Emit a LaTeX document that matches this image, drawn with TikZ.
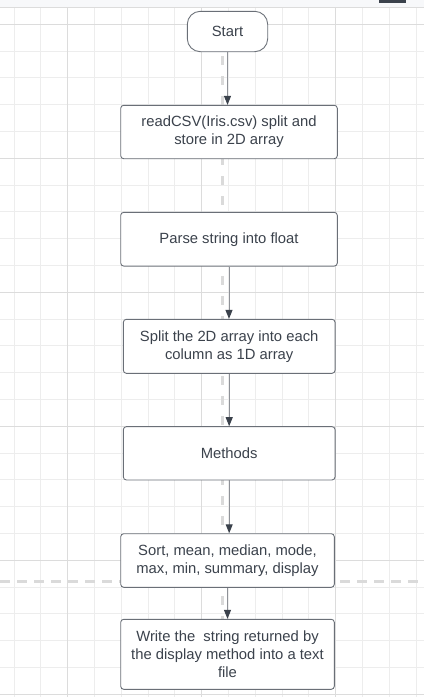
\documentclass[tikz,border=0pt]{standalone}
\usepackage{fontspec}
\setmainfont{Liberation Sans}
\usetikzlibrary{arrows.meta}
\definecolor{ink}{HTML}{3B424C}
\definecolor{edge}{HTML}{6A6F77}
\definecolor{wire}{HTML}{8E9197}
\definecolor{minorgrid}{HTML}{EDEDED}
\definecolor{majorgrid}{HTML}{DCDCDC}
\definecolor{guide}{HTML}{DADADA}
\definecolor{topbar}{HTML}{F7F8FA}
\tikzstyle{box} = [draw=edge, line width=0.9pt, fill=white, rounded corners=3pt, text=ink, align=center, inner sep=0pt]
\tikzstyle{term} = [box, rounded corners=13pt]
\tikzstyle{flow} = [draw=wire, line width=1pt, -{Triangle[length=9pt,width=7pt,color=ink]}]
\tikzstyle{guideline} = [draw=guide, line width=2.7pt]

\begin{document}
\begin{tikzpicture}[x=1pt,y=-1pt,font=\fontsize{14.8}{17.8}\selectfont]
	  \useasboundingbox (0,0) rectangle (424,697);
	  % grid
	  \foreach \i in {0,...,15}
	    \draw [minorgrid, line width=1pt] ({14.1+26.8*\i},0) -- ({14.1+26.8*\i},697);
	  \foreach \j in {0,...,25}
	    \draw [minorgrid, line width=1pt] (0,{24.3+26.8*\j}) -- (424,{24.3+26.8*\j});
	  \foreach \i in {67.7,201.7,335.7}
	    \draw [majorgrid, line width=1pt] (\i,0) -- (\i,697);
	  \foreach \j in {24.3,158.3,292.3,426.3,560.3,694.3}
	    \draw [majorgrid, line width=1pt] (0,\j) -- (424,\j);
	  \fill [topbar] (0,0) rectangle (424,7);
	  \draw [majorgrid, line width=0.8pt] (0,7) -- (424,7);
	  \fill [ink] (379,0) rectangle (406,2.7);
	  \draw [guideline, dash pattern=on 9pt off 11pt] (222.3,56) -- (222.3,690);
	  \draw [guideline, dash pattern=on 10pt off 7pt] (0,581.7) -- (424,581.7);

	  \node (a) at (227.5,31.5) [term, minimum width=80.4pt, minimum height=40.4pt] {Start};
	  \node (b) at (229,132) [box, minimum width=216.6pt, minimum height=53.4pt] {readCSV(Iris.csv) split and\\store in 2D array};
	  \node (c) at (229,239.2) [box, minimum width=216.6pt, minimum height=53.7pt] {Parse string into float};
	  \node (d) at (229.2,346.3) [box, minimum width=211.7pt, minimum height=54pt] {Split the 2D array into each\\column as 1D array};
	  \node (e) at (229.2,453.3) [box, minimum width=211.7pt, minimum height=53.3pt] {Methods};
	  \node (f) at (227.5,560.5) [box, minimum width=213.6pt, minimum height=53.6pt] {Sort, mean, median, mode,\\max, min, summary, display};
	  \node (g) at (227.5,654.3) [box, minimum width=213.6pt, minimum height=70pt] {Write the\ \ string returned by\\the display method into a text\\file};

	  \draw [flow] (a.south) -- (a.south |- b.north);
	  \draw [flow] (c.south) -- (c.south |- d.north);
	  \draw [flow] (d.south) -- (d.south |- e.north);
	  \draw [flow] (e.south) -- (e.south |- f.north);
	  \draw [flow] (f.south) -- (f.south |- g.north);
	\end{tikzpicture}
\end{document}
